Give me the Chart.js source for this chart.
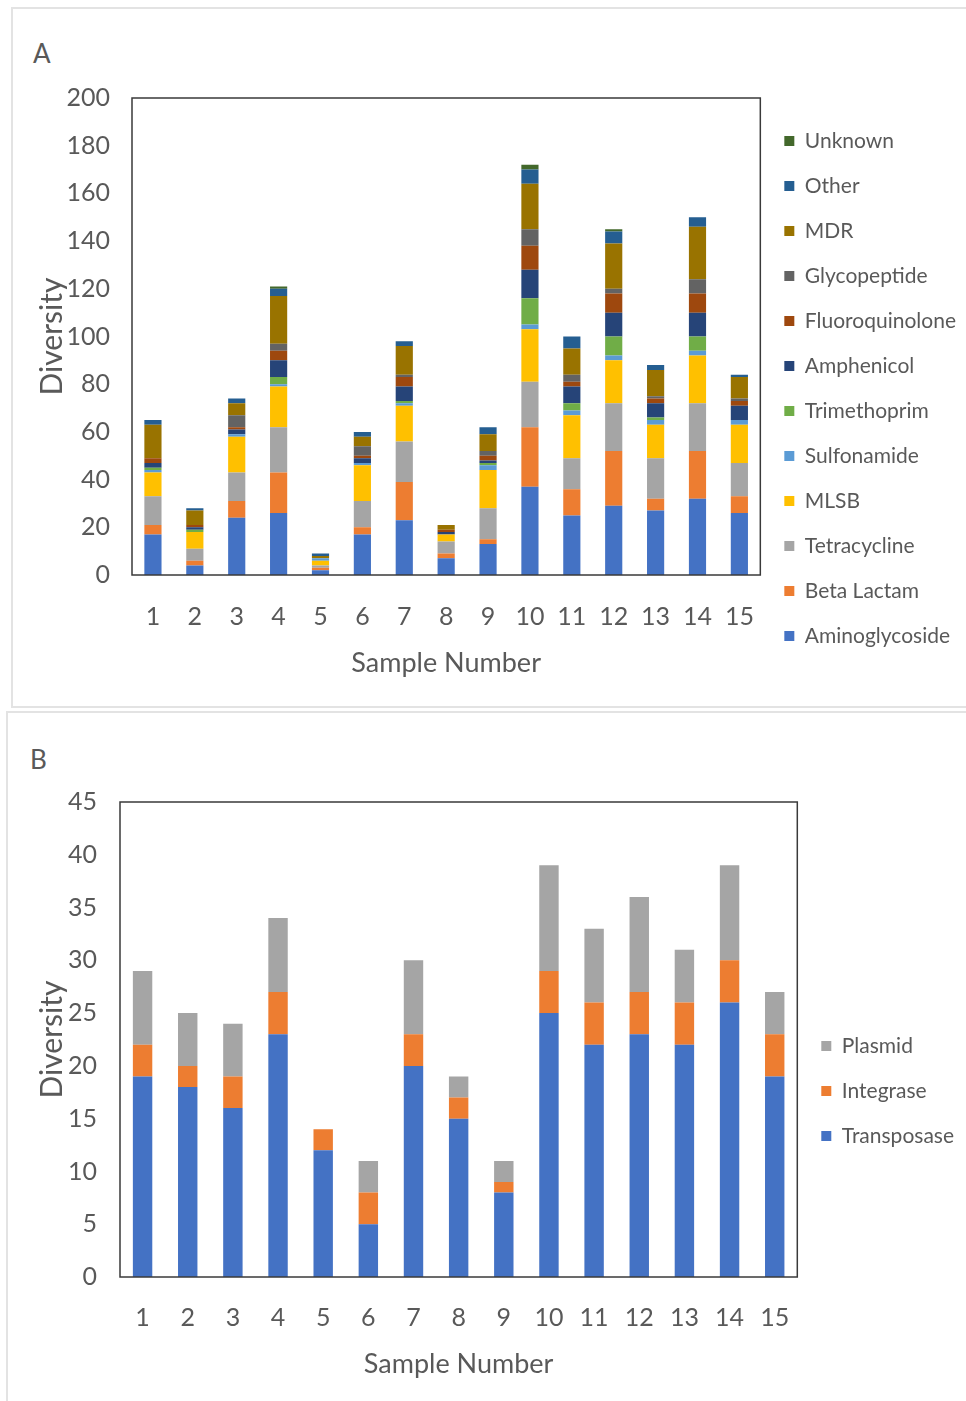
<!DOCTYPE html>
<html>
<head>
<meta charset="utf-8">
<script src="https://cdn.jsdelivr.net/npm/chart.js@4.4.1/dist/chart.umd.min.js"></script>
<style>
  body { margin: 0; background: #fff; width: 966px; height: 1401px; position: relative; overflow: hidden; }
  .panel { position: absolute; border: 2px solid #e3e3e3; box-sizing: border-box; }
  .tag { position: absolute; font-family: Lato, sans-serif; font-size: 26px; color: #595959; line-height: 1; }
  canvas { position: absolute; left: 0; }
</style>
</head>
<body>
<div class="panel" style="left:11px; top:7px; width:980px; height:701px;"></div>
<div class="panel" style="left:6px; top:711px; width:980px; height:700px;"></div>
<div class="tag" style="left:33px; top:40px;">A</div>
<div class="tag" style="left:30px; top:746px;">B</div>
<canvas id="chartA" width="966" height="706" style="top:0px;"></canvas>
<canvas id="chartB" width="966" height="689" style="top:712px;"></canvas>
<script>
// sample labels shared by both panels
var samples = ['1', '2', '3', '4', '5', '6', '7', '8', '9', '10', '11', '12', '13', '14', '15'];

// panel A - antibiotic resistance gene classes
var aminoglycoside  = [17, 4, 24, 26, 2, 17, 23, 7, 13, 37, 25, 29, 27, 32, 26];
var betaLactam      = [4, 2, 7, 17, 1, 3, 16, 2, 2, 25, 11, 23, 5, 20, 7];
var tetracycline    = [12, 5, 12, 19, 1, 11, 17, 5, 13, 19, 13, 20, 17, 20, 14];
var mlsb            = [10, 7, 15, 17, 2, 15, 15, 3, 16, 22, 18, 18, 14, 20, 16];
var sulfonamide     = [1, 0, 1, 1, 1, 1, 1, 0, 2, 2, 2, 2, 2, 2, 2];
var trimethoprim    = [1, 1, 0, 3, 0, 0, 1, 0, 1, 11, 3, 8, 1, 6, 0];
var amphenicol      = [2, 1, 2, 7, 0, 2, 6, 1, 1, 12, 7, 10, 6, 10, 6];
var fluoroquinolone = [2, 1, 1, 4, 0, 1, 4, 1, 2, 10, 2, 8, 2, 8, 2];
var glycopeptide    = [0, 0, 5, 3, 0, 4, 1, 0, 2, 7, 3, 2, 1, 6, 1];
var mdr             = [14, 6, 5, 20, 1, 4, 12, 2, 7, 19, 11, 19, 11, 22, 9];
var other           = [2, 1, 2, 3, 1, 2, 2, 0, 3, 6, 5, 5, 2, 4, 1];
var unknown         = [0, 0, 0, 1, 0, 0, 0, 0, 0, 2, 0, 1, 0, 0, 0];

// panel B - mobile genetic elements
var transposase = [19, 18, 16, 23, 12, 5, 20, 15, 8, 25, 22, 23, 22, 26, 19];
var integrase   = [3, 2, 3, 4, 2, 3, 3, 2, 1, 4, 4, 4, 4, 4, 4];
var plasmid     = [7, 5, 5, 7, 0, 3, 7, 2, 2, 10, 7, 9, 5, 9, 4];

var TEXT = '#595959';

Chart.defaults.font.family = 'Lato, sans-serif';
Chart.defaults.color = TEXT;

// outline round the plot area, like the excel chart box
var frame = {
  id: 'frame',
  afterDatasetsDraw: function (chart) {
    var a = chart.chartArea, c = chart.ctx;
    c.save();
    c.strokeStyle = '#3a3a3a';
    c.lineWidth = 1.5;
    c.strokeRect(a.left, a.top, a.right - a.left, a.bottom - a.top);
    c.restore();
  }
};

function ds(label, data, color, pct) {
  return {
    label: label,
    data: data,
    backgroundColor: color,
    borderWidth: 0,
    categoryPercentage: 1,
    barPercentage: pct
  };
}

function options(yMax, yStep, yWidth, xHeight, xPad, yPad, pad) {
  return {
    responsive: false,
    animation: false,
    devicePixelRatio: 1,
    layout: { padding: pad },
    plugins: {
      tooltip: { enabled: false },
      legend: {
        position: 'right',
        reverse: true,
        labels: {
          boxWidth: 10,
          boxHeight: 10,
          padding: 24,
          color: TEXT,
          font: { size: 21 }
        }
      }
    },
    scales: {
      x: {
        stacked: true,
        grid: { display: false, drawTicks: false },
        border: { display: false },
        ticks: { padding: xPad, font: { size: 25 }, color: TEXT },
        title: { display: true, text: 'Sample Number', font: { size: 27 }, color: TEXT, padding: 0 },
        afterFit: function (s) { s.height = xHeight; }
      },
      y: {
        stacked: true,
        min: 0,
        max: yMax,
        grid: { display: false, drawTicks: false },
        border: { display: false },
        ticks: { stepSize: yStep, padding: yPad, font: { size: 25 }, color: TEXT },
        title: { display: true, text: 'Diversity', font: { size: 30 }, color: TEXT, padding: { top: 4, bottom: 0 } },
        afterFit: function (s) { s.width = yWidth; }
      }
    }
  };
}

var ctxA = document.getElementById('chartA').getContext('2d');
var chartA = new Chart(ctxA, {
  type: 'bar',
  data: {
    labels: samples,
    datasets: [
      ds('Aminoglycoside', aminoglycoside, '#4472C4', 0.41),
      ds('Beta Lactam', betaLactam, '#ED7D31', 0.41),
      ds('Tetracycline', tetracycline, '#A5A5A5', 0.41),
      ds('MLSB', mlsb, '#FFC000', 0.41),
      ds('Sulfonamide', sulfonamide, '#5B9BD5', 0.41),
      ds('Trimethoprim', trimethoprim, '#70AD47', 0.41),
      ds('Amphenicol', amphenicol, '#264478', 0.41),
      ds('Fluoroquinolone', fluoroquinolone, '#9E480E', 0.41),
      ds('Glycopeptide', glycopeptide, '#636363', 0.41),
      ds('MDR', mdr, '#997300', 0.41),
      ds('Other', other, '#255E91', 0.41),
      ds('Unknown', unknown, '#43682B', 0.41)
    ]
  },
  options: options(200, 20, 102, 104, 27, 22, { top: 98, bottom: 27, left: 30, right: 0 }),
  plugins: [frame]
});

var ctxB = document.getElementById('chartB').getContext('2d');
var chartB = new Chart(ctxB, {
  type: 'bar',
  data: {
    labels: samples,
    datasets: [
      ds('Transposase', transposase, '#4472C4', 0.43),
      ds('Integrase', integrase, '#ED7D31', 0.43),
      ds('Plasmid', plasmid, '#A5A5A5', 0.43)
    ]
  },
  options: options(45, 5, 90, 103, 26, 23, { top: 90, bottom: 21, left: 30, right: 2 }),
  plugins: [frame]
});
</script>
</body>
</html>
